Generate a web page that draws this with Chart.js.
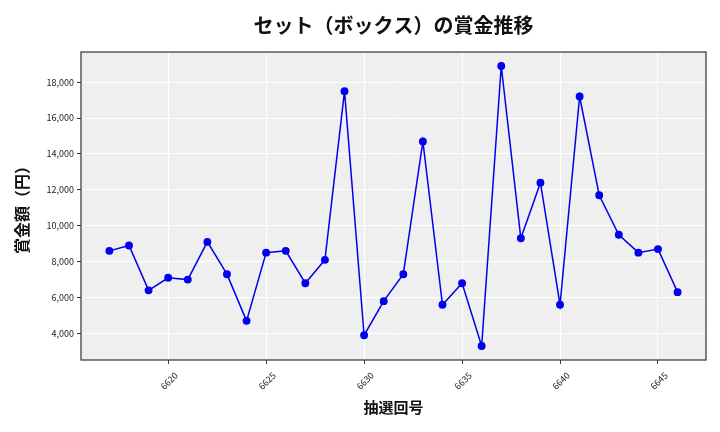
<!DOCTYPE html>
<html>
<head>
    <title>セット（ボックス）の賞金推移</title>
    <script src="https://cdn.jsdelivr.net/npm/chart.js"></script>
    <style>
        body { margin: 0; background: #fff; }
        #wrap { width: 720px; height: 432px; }
    </style>
</head>
<body>
    <div id="wrap"><canvas id="prizeChart"></canvas></div>

    <script type="text/javascript">
        // 抽選回号
        var draws = [6617, 6618, 6619, 6620, 6621, 6622, 6623, 6624, 6625, 6626,
                     6627, 6628, 6629, 6630, 6631, 6632, 6633, 6634, 6635, 6636,
                     6637, 6638, 6639, 6640, 6641, 6642, 6643, 6644, 6645, 6646];
        // 賞金額（円）
        var prizes = [8600, 8900, 6400, 7100, 7000, 9100, 7300, 4700, 8500, 8600,
                      6800, 8100, 17500, 3900, 5800, 7300, 14700, 5600, 6800, 3300,
                      18900, 9300, 12400, 5600, 17200, 11700, 9500, 8500, 8700, 6300];
        var xTicks = [6620, 6625, 6630, 6635, 6640, 6645];
        var yTicks = [4000, 6000, 8000, 10000, 12000, 14000, 16000, 18000];
        var chartTitle = 'セット（ボックス）の賞金推移';

        var fontFamily = '"Noto Sans CJK JP", "Noto Sans", sans-serif';

        // 背景・枠線・タイトル（プロット領域の中央に）
        var plotBox = {
            id: 'plotBox',
            beforeDraw: function(chart) {
                var a = chart.chartArea, c = chart.ctx;
                c.save();
                c.fillStyle = '#efefef';
                c.fillRect(a.left, a.top, a.right - a.left, a.bottom - a.top);
                c.restore();
            },
            afterDatasetsDraw: function(chart) {
                var a = chart.chartArea, c = chart.ctx;
                c.save();
                c.strokeStyle = '#333';
                c.lineWidth = 1.2;
                c.strokeRect(a.left, a.top, a.right - a.left, a.bottom - a.top);
                c.fillStyle = '#111';
                c.font = 'bold 20px ' + fontFamily;
                c.textAlign = 'center';
                c.textBaseline = 'middle';
                c.fillText(chartTitle, (a.left + a.right) / 2, 25);
                c.restore();
            }
        };

        var points = draws.map(function(d, i) { return { x: d, y: prizes[i] }; });

        new Chart(document.getElementById('prizeChart').getContext('2d'), {
            type: 'line',
            data: {
                datasets: [{
                    data: points,
                    borderColor: '#0000ee',
                    backgroundColor: '#0000ee',
                    borderWidth: 1.5,
                    pointRadius: 3.2,
                    pointHoverRadius: 3.2,
                    tension: 0
                }]
            },
            options: {
                responsive: true,
                maintainAspectRatio: false,
                animation: false,
                layout: { padding: { left: 0, right: 14, top: 52, bottom: 0 } },
                plugins: {
                    legend: { display: false },
                    tooltip: { enabled: false }
                },
                scales: {
                    x: {
                        type: 'linear',
                        min: 6615.55,
                        max: 6647.45,
                        afterBuildTicks: function(s) { s.ticks = xTicks.map(function(v) { return { value: v }; }); },
                        afterFit: function(s) { s.height = 72; },
                        grid: { color: '#ffffff', lineWidth: 1, tickColor: '#333', tickLength: 4 },
                        border: { display: false },
                        ticks: {
                            color: '#222',
                            font: { family: fontFamily, size: 9 },
                            maxRotation: 45,
                            minRotation: 45,
                            padding: 6,
                            labelOffset: 8,
                            callback: function(v) { return String(v); }
                        },
                        title: {
                            display: true,
                            text: '抽選回号',
                            color: '#111',
                            font: { family: fontFamily, size: 15, weight: 'bold' },
                            padding: { top: 0, bottom: 16 }
                        }
                    },
                    y: {
                        min: 2520,
                        max: 19680,
                        afterBuildTicks: function(s) { s.ticks = yTicks.map(function(v) { return { value: v }; }); },
                        afterFit: function(s) { s.width = 81; },
                        grid: { color: '#ffffff', lineWidth: 1, tickColor: '#333', tickLength: 4 },
                        border: { display: false },
                        ticks: {
                            color: '#222',
                            font: { family: fontFamily, size: 9 },
                            padding: 3,
                            callback: function(v) { return v.toLocaleString('en-US'); }
                        },
                        title: {
                            display: true,
                            text: '賞金額（円）',
                            color: '#111',
                            font: { family: fontFamily, size: 16, weight: 'bold' },
                            padding: { top: 12, bottom: 0 }
                        }
                    }
                }
            },
            plugins: [plotBox]
        });
    </script>
</body>
</html>
